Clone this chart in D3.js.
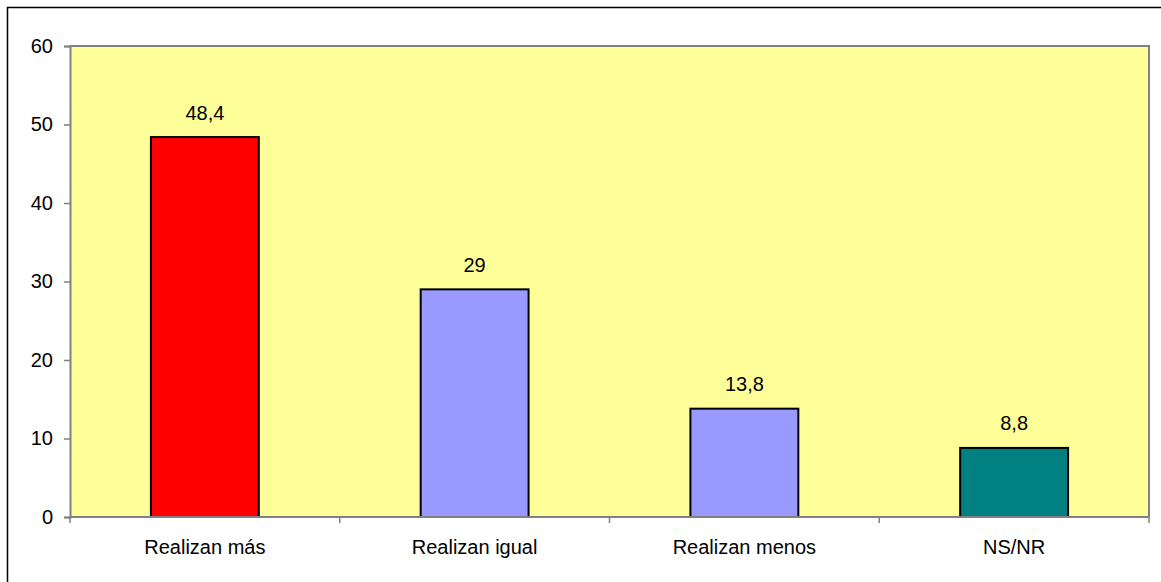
<!DOCTYPE html>
<html>
<head>
<meta charset="utf-8">
<script src="https://cdn.jsdelivr.net/npm/d3@7"></script>
<style>
  html, body { margin: 0; padding: 0; background: #fff; }
  svg { display: block; font-family: "Liberation Sans", Arial, sans-serif; }
</style>
</head>
<body>
<svg id="chart" width="1161" height="582"></svg>
<script>
// Survey answers and their percentages
const categories = ["Realizan más", "Realizan igual", "Realizan menos", "NS/NR"];
const values = [48.4, 29, 13.8, 8.8];
const valueLabels = ["48,4", "29", "13,8", "8,8"];
const barColors = ["#FF0000", "#9999FF", "#9999FF", "#008080"];
const yTicks = [0, 10, 20, 30, 40, 50, 60];

const svg = d3.select("#chart");
const W = 1161, H = 582;
const plot = { left: 70, top: 46, right: 1149, bottom: 517 };

// Outer frame
svg.append("rect")
  .attr("x", 7.5).attr("y", 7.5)
  .attr("width", W).attr("height", H)
  .attr("fill", "none").attr("stroke", "#000").attr("stroke-width", 1.5);

const x = d3.scaleBand().domain(categories).range([plot.left, plot.right]).paddingInner(0).paddingOuter(0);
const y = d3.scaleLinear().domain([0, 60]).range([plot.bottom, plot.top]);

// Plot background
svg.append("rect")
  .attr("x", plot.left).attr("y", plot.top)
  .attr("width", plot.right - plot.left).attr("height", plot.bottom - plot.top)
  .attr("fill", "#FFFF99");

// Top and right frame of the plot area
svg.append("path")
  .attr("d", `M${plot.left},${plot.top}H${plot.right}V${plot.bottom}`)
  .attr("fill", "none").attr("stroke", "#808080").attr("stroke-width", 2);

// Bars
const barW = x.bandwidth() * 0.4;
svg.append("g").selectAll("rect")
  .data(categories)
  .join("rect")
  .attr("x", (d) => x(d) + (x.bandwidth() - barW) / 2)
  .attr("y", (d, i) => y(values[i]))
  .attr("width", barW)
  .attr("height", (d, i) => y(0) - y(values[i]))
  .attr("fill", (d, i) => barColors[i])
  .attr("stroke", "#000").attr("stroke-width", 2);

// Value labels
svg.append("g").selectAll("text")
  .data(categories)
  .join("text")
  .attr("x", (d) => x(d) + x.bandwidth() / 2)
  .attr("y", (d, i) => y(values[i]) - 17.5)
  .attr("text-anchor", "middle")
  .attr("font-size", 20)
  .attr("fill", "#000")
  .text((d, i) => valueLabels[i]);

// Y axis
const yAxis = svg.append("g")
  .attr("transform", `translate(${plot.left},0)`)
  .call(d3.axisLeft(y).tickValues(yTicks).tickSize(6).tickPadding(11).tickFormat(d3.format("d")));
yAxis.select(".domain").attr("stroke", "#808080").attr("stroke-width", 2);
yAxis.selectAll(".tick line").attr("stroke", "#808080").attr("stroke-width", 1.5);
yAxis.selectAll(".tick text").attr("font-size", 20).attr("fill", "#000")
  .attr("font-family", "'Liberation Sans', Arial, sans-serif");

// X axis with ticks at the category boundaries
const boundaries = categories.map((d) => x(d)).concat([plot.right]);
svg.append("line")
  .attr("x1", plot.left).attr("x2", plot.right)
  .attr("y1", plot.bottom).attr("y2", plot.bottom)
  .attr("stroke", "#808080").attr("stroke-width", 2);
svg.append("g").selectAll("line")
  .data(boundaries)
  .join("line")
  .attr("x1", (d) => d).attr("x2", (d) => d)
  .attr("y1", plot.bottom).attr("y2", plot.bottom + 6)
  .attr("stroke", "#808080").attr("stroke-width", 1.5);
svg.append("g").selectAll("text")
  .data(categories)
  .join("text")
  .attr("x", (d) => x(d) + x.bandwidth() / 2)
  .attr("y", 554)
  .attr("text-anchor", "middle")
  .attr("font-size", 20)
  .attr("fill", "#000")
  .text((d) => d);
</script>
</body>
</html>
